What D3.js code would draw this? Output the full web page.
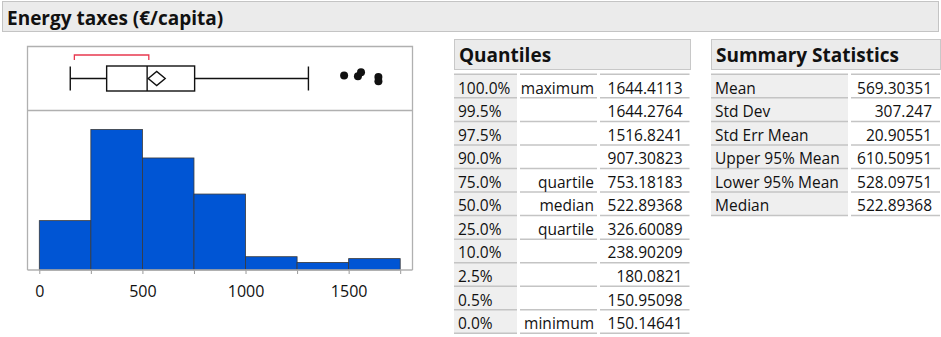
<!DOCTYPE html>
<html>
<head>
<meta charset="utf-8">
<script src="https://cdn.jsdelivr.net/npm/d3@7"></script>
<style>
  body { margin: 0; background: #fff; }
  text { font-family: "Open Sans", sans-serif; fill: #111; }
</style>
</head>
<body>
<div class="report"></div>
<script>
// values
const binEdges = [0, 250, 500, 750, 1000, 1250, 1500, 1750];
const binCounts = [26, 74, 59, 40, 7, 4, 6];
const boxValues = [150.14641, 326.60089, 522.89368, 753.18183, 1305]; // lo whisker, q1, median, q3, hi whisker
const meanValue = 569.30351;
const meanCI = [528.09751, 610.50951];
const shortestHalf = [170, 531];
const outliers = [1478, 1545, 1560, 1644.2764, 1644.4113];
const outlierJitter = [-0.24, -0.18, -0.5, -0.13, 0.22];
const axisTicks = [0, 250, 500, 750, 1000, 1250, 1500, 1750];

const quantileLevels = ["100.0%", "99.5%", "97.5%", "90.0%", "75.0%", "50.0%", "25.0%", "10.0%", "2.5%", "0.5%", "0.0%"];
const quantileNames = ["maximum", "", "", "", "quartile", "median", "quartile", "", "", "", "minimum"];
const quantileValues = ["1644.4113", "1644.2764", "1516.8241", "907.30823", "753.18183", "522.89368", "326.60089", "238.90209", "180.0821", "150.95098", "150.14641"];

const summaryLabels = ["Mean", "Std Dev", "Std Err Mean", "Upper 95% Mean", "Lower 95% Mean", "Median"];
const summaryValues = ["569.30351", "307.247", "20.90551", "610.50951", "528.09751", "522.89368"];

const svg = d3.select(".report").append("svg")
  .attr("width", 941)
  .attr("height", 337);

// title bar
svg.append("rect")
  .attr("x", 2.5).attr("y", 1.5).attr("width", 936).attr("height", 30)
  .attr("fill", "#ebebeb").attr("stroke", "#c4c4c4");
svg.append("text")
  .attr("x", 7).attr("y", 25)
  .attr("font-size", 19).attr("font-weight", "bold")
  .text("Energy taxes (€/capita)");

// ---- distribution panel ----
const frameL = 27.5, frameR = 412.5, frameT = 46.5, sepY = 110.5, baseY = 270;

const x = d3.scaleLinear().domain([0, 1750]).range([39.3, 400.2]);
const y = d3.scaleLinear().domain([0, 84]).range([baseY, sepY]);

svg.append("path")
  .attr("d", `M${frameL},${baseY}V${frameT}H${frameR}V${baseY}M${frameL},${sepY}H${frameR}`)
  .attr("fill", "none").attr("stroke", "#b0b0b0").attr("stroke-width", 1.3);

const bins = binCounts.map((c, i) => ({ x0: binEdges[i], x1: binEdges[i + 1], n: c }));
svg.selectAll(".bar").data(bins).enter()
  .append("rect")
  .attr("class", "bar")
  .attr("x", d => x(d.x0))
  .attr("y", d => y(d.n))
  .attr("width", d => x(d.x1) - x(d.x0))
  .attr("height", d => y(0) - y(d.n))
  .attr("fill", "#0055d4")
  .attr("stroke", "#3a3a3a")
  .attr("stroke-width", 0.8);

const xAxis = svg.append("g")
  .attr("transform", `translate(0,${baseY})`)
  .call(d3.axisBottom(x).tickValues(axisTicks).tickSize(4).tickPadding(12)
    .tickFormat(d => d % 500 === 0 ? d : ""));
xAxis.select(".domain").remove();
xAxis.selectAll(".tick line").attr("stroke", "#999");
xAxis.selectAll(".tick text")
  .attr("font-family", "Open Sans, sans-serif")
  .attr("font-size", 16).attr("fill", "#111");
svg.append("line")
  .attr("x1", frameL).attr("x2", frameR).attr("y1", baseY).attr("y2", baseY)
  .attr("stroke", "#b0b0b0").attr("stroke-width", 1.3);

// box plot
const boxMid = 78.5, boxHalf = 12.5;
const [wLo, q1, med, q3, wHi] = boxValues;
const box = svg.append("g").attr("stroke", "#111").attr("stroke-width", 1.4).attr("fill", "none");
box.append("line").attr("x1", x(wLo)).attr("x2", x(q1)).attr("y1", boxMid).attr("y2", boxMid);
box.append("line").attr("x1", x(q3)).attr("x2", x(wHi)).attr("y1", boxMid).attr("y2", boxMid);
[wLo, wHi].forEach(v => box.append("line")
  .attr("x1", x(v)).attr("x2", x(v)).attr("y1", boxMid - 12).attr("y2", boxMid + 12));
box.append("rect")
  .attr("x", x(q1)).attr("y", boxMid - boxHalf)
  .attr("width", x(q3) - x(q1)).attr("height", boxHalf * 2);
box.append("line").attr("x1", x(med)).attr("x2", x(med))
  .attr("y1", boxMid - boxHalf).attr("y2", boxMid + boxHalf);
box.append("path")
  .attr("d", `M${x(meanCI[0])},${boxMid}L${x(meanValue)},${boxMid - 7}L${x(meanCI[1])},${boxMid}L${x(meanValue)},${boxMid + 7}Z`)
  .attr("fill", "#fff");

svg.append("path")
  .attr("d", `M${x(shortestHalf[0])},60V55H${x(shortestHalf[1])}V60`)
  .attr("fill", "none").attr("stroke", "#e8384f").attr("stroke-width", 1.3);

svg.selectAll(".outlier").data(outliers).enter()
  .append("circle")
  .attr("class", "outlier")
  .attr("cx", d => x(d))
  .attr("cy", (d, i) => boxMid + outlierJitter[i] * boxHalf)
  .attr("r", 4)
  .attr("fill", "#111");

// ---- tables ----
const rowTop = 74.3, rowH = 23.55;

function header(x0, x1, label) {
  svg.append("rect")
    .attr("x", x0 + 0.5).attr("y", 39.5).attr("width", x1 - x0).attr("height", 30)
    .attr("fill", "#ebebeb").attr("stroke", "#c8c8c8");
  svg.append("text")
    .attr("x", x0 + 5).attr("y", 61.5)
    .attr("font-size", 19).attr("font-weight", "bold")
    .text(label);
}

function table(cols, columns, n) {
  const g = svg.append("g");
  cols.forEach((c, ci) => {
    if (ci === 0) {
      g.append("rect")
        .attr("x", c[0]).attr("y", rowTop).attr("width", c[1] - c[0]).attr("height", rowH * n)
        .attr("fill", "#efefef");
    }
    d3.range(n + 1).forEach(r => g.append("line")
      .attr("x1", c[0]).attr("x2", c[1])
      .attr("y1", rowTop + r * rowH).attr("y2", rowTop + r * rowH)
      .attr("stroke", "#c4c4c4").attr("stroke-width", 1.5));
  });
  columns.forEach((col, ci) => {
    g.selectAll(null).data(col.values).enter()
      .append("text")
      .attr("x", col.align === "start" ? cols[ci][0] + 4 : cols[ci][1] - col.pad)
      .attr("y", (d, i) => rowTop + i * rowH + 19.3)
      .attr("text-anchor", col.align)
      .attr("font-size", 15.5)
      .text(d => d);
  });
}

header(454, 690, "Quantiles");
table([[454, 517], [520, 597], [600, 689.5]], [
  { values: quantileLevels, align: "start" },
  { values: quantileNames, align: "end", pad: 3 },
  { values: quantileValues, align: "end", pad: 7 }
], quantileLevels.length);

header(711, 940, "Summary Statistics");
table([[711, 848], [851, 940]], [
  { values: summaryLabels, align: "start" },
  { values: summaryValues, align: "end", pad: 8 }
], summaryLabels.length);
</script>
</body>
</html>
